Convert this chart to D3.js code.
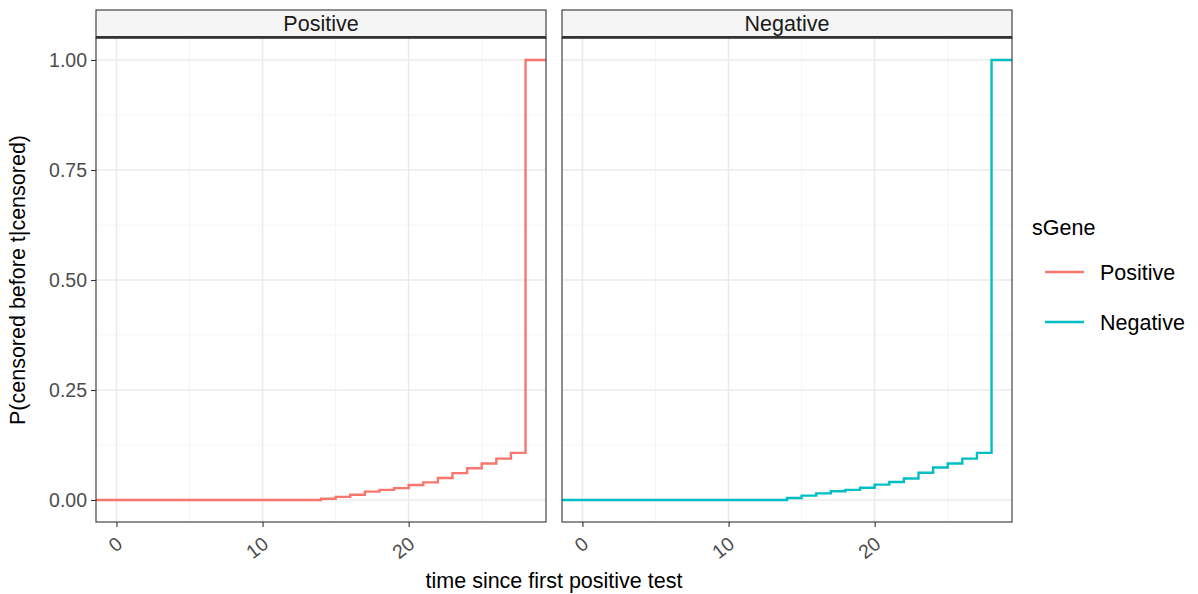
<!DOCTYPE html>
<html>
<head>
<meta charset="utf-8">
<script src="https://cdn.jsdelivr.net/npm/d3@7"></script>
<style>
  body { margin: 0; background: #fff; }
  text { font-family: "Liberation Sans", Arial, sans-serif; }
</style>
</head>
<body>
<svg id="chart"></svg>
<script>
const panels = ['Positive', 'Negative'];
const colors = ['#F8766D', '#00BFC4'];
// step times and cumulative probability (value holds until next time)
const stepTimes = [-5, 14, 15, 16, 17, 18, 19, 20, 21, 22, 23, 24, 25, 26, 27, 28, 35];
const positiveValues = [0, 0.003, 0.007, 0.012, 0.019, 0.023, 0.027, 0.034, 0.040, 0.050, 0.061, 0.072, 0.083, 0.094, 0.107, 1.0, 1.0];
const negativeValues = [0, 0.0045, 0.010, 0.015, 0.020, 0.023, 0.028, 0.035, 0.041, 0.049, 0.062, 0.074, 0.083, 0.094, 0.107, 1.0, 1.0];
const xTicks = [0, 10, 20];
const xMinor = [5, 15, 25];
const yTicks = [0, 0.25, 0.5, 0.75, 1];
const yMinor = [0.125, 0.375, 0.625, 0.875];

const series = [positiveValues, negativeValues];

const width = 1198;
const height = 594;
const plotTop = 38, plotBottom = 522;
const panelLefts = [96, 562];
const panelW = 450;

const svg = d3.select('#chart').attr('width', width).attr('height', height);

const yScale = d3.scaleLinear().domain([-0.05, 1.05]).range([plotBottom, plotTop]);

panels.forEach((name, i) => {
  const x0 = panelLefts[i];
  const xScale = d3.scaleLinear().domain([-1.4, 29.4]).range([x0, x0 + panelW]);
  const g = svg.append('g');

  g.append('defs').append('clipPath').attr('id', 'clip' + i)
    .append('rect').attr('x', x0).attr('y', plotTop).attr('width', panelW).attr('height', plotBottom - plotTop);

  // grid
  g.selectAll('.ymin').data(yMinor).enter().append('line')
    .attr('x1', x0).attr('x2', x0 + panelW)
    .attr('y1', d => yScale(d)).attr('y2', d => yScale(d))
    .attr('stroke', '#F2F2F2').attr('stroke-width', 0.8);
  g.selectAll('.xmin').data(xMinor).enter().append('line')
    .attr('y1', plotTop).attr('y2', plotBottom)
    .attr('x1', d => xScale(d)).attr('x2', d => xScale(d))
    .attr('stroke', '#F2F2F2').attr('stroke-width', 0.8);
  g.selectAll('.ymaj').data(yTicks).enter().append('line')
    .attr('x1', x0).attr('x2', x0 + panelW)
    .attr('y1', d => yScale(d)).attr('y2', d => yScale(d))
    .attr('stroke', '#EBEBEB').attr('stroke-width', 1.6);
  g.selectAll('.xmaj').data(xTicks).enter().append('line')
    .attr('y1', plotTop).attr('y2', plotBottom)
    .attr('x1', d => xScale(d)).attr('x2', d => xScale(d))
    .attr('stroke', '#EBEBEB').attr('stroke-width', 1.6);

  // step line
  const pts = stepTimes.map((t, k) => [t, series[i][k]]);
  const line = d3.line().curve(d3.curveStepAfter)
    .x(d => xScale(d[0])).y(d => yScale(d[1]));
  g.append('path').datum(pts)
    .attr('clip-path', 'url(#clip' + i + ')')
    .attr('d', line)
    .attr('fill', 'none')
    .attr('stroke', colors[i])
    .attr('stroke-width', 2.4);

  // panel border
  g.append('rect').attr('x', x0).attr('y', plotTop).attr('width', panelW).attr('height', plotBottom - plotTop)
    .attr('fill', 'none').attr('stroke', '#333333').attr('stroke-width', 1.1);

  // strip
  g.append('rect').attr('x', x0).attr('y', 10).attr('width', panelW).attr('height', plotTop - 10)
    .attr('fill', '#F5F5F5').attr('stroke', '#333333').attr('stroke-width', 1.1);
  g.append('line').attr('x1', x0).attr('x2', x0 + panelW).attr('y1', plotTop - 1).attr('y2', plotTop - 1)
    .attr('stroke', '#333333').attr('stroke-width', 2);
  g.append('text').attr('x', x0 + panelW / 2).attr('y', 31)
    .attr('text-anchor', 'middle').attr('font-size', 21.5).attr('fill', '#1A1A1A').text(name);

  // x axis
  const xa = g.append('g').attr('transform', `translate(0,${plotBottom})`)
    .call(d3.axisBottom(xScale).tickValues(xTicks).tickSize(5).tickPadding(4).tickFormat(d3.format('d')));
  xa.select('.domain').remove();
  xa.selectAll('line').attr('stroke', '#333333').attr('stroke-width', 1.1);
  xa.selectAll('text')
    .attr('font-size', 19.5).attr('fill', '#4D4D4D')
    .attr('text-anchor', 'end')
    .attr('dy', null)
    .attr('y', 0)
    .attr('transform', 'translate(-2,13) rotate(-38)')
    .attr('dominant-baseline', 'hanging');
});

// y axis
const ya = svg.append('g').attr('transform', `translate(${panelLefts[0]},0)`)
  .call(d3.axisLeft(yScale).tickValues(yTicks).tickSize(5).tickPadding(4).tickFormat(d3.format('.2f')));
ya.select('.domain').remove();
ya.selectAll('line').attr('stroke', '#333333').attr('stroke-width', 1.1);
ya.selectAll('text').attr('font-size', 19.5).attr('fill', '#4D4D4D');

// axis titles
svg.append('text').attr('x', (panelLefts[0] + panelLefts[1] + panelW) / 2).attr('y', 588)
  .attr('text-anchor', 'middle').attr('font-size', 21.5).attr('fill', '#000').text('time since first positive test');
svg.append('text').attr('transform', `translate(25,${(plotTop + plotBottom) / 2}) rotate(-90)`)
  .attr('text-anchor', 'middle').attr('font-size', 21.5).attr('fill', '#000').text('P(censored before t|censored)');

// legend
const lg = svg.append('g').attr('transform', 'translate(1032,0)');
lg.append('text').attr('x', 0).attr('y', 235).attr('font-size', 21.5).attr('fill', '#000').text('sGene');
panels.forEach((name, i) => {
  const yy = 272 + i * 50;
  lg.append('line').attr('x1', 13).attr('x2', 52).attr('y1', yy).attr('y2', yy)
    .attr('stroke', colors[i]).attr('stroke-width', 2.4);
  lg.append('text').attr('x', 68).attr('y', yy + 7.5).attr('font-size', 21.5).attr('fill', '#000').text(name);
});
</script>
</body>
</html>
